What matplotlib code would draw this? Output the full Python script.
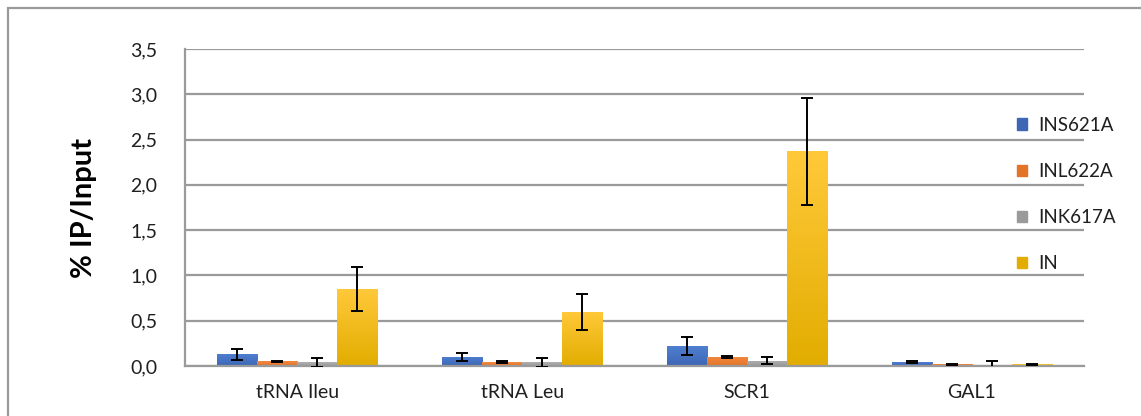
import numpy as np
import matplotlib
matplotlib.use('Agg')
import matplotlib.pyplot as plt
from matplotlib.patches import Rectangle
from matplotlib.colors import LinearSegmentedColormap

plt.rcParams['font.family'] = ['Lato', 'DejaVu Sans']

categories = ['tRNA Ileu', 'tRNA Leu', 'SCR1', 'GAL1']
series = ['INS621A', 'INL622A', 'INK617A', 'IN']
ins621a = [0.13, 0.10, 0.22, 0.04]
ins621a_err = [0.06, 0.045, 0.10, 0.01]
inl622a = [0.05, 0.04, 0.10, 0.02]
inl622a_err = [0.01, 0.01, 0.01, 0.005]
ink617a = [0.04, 0.04, 0.06, 0.01]
ink617a_err = [0.05, 0.05, 0.035, 0.05]
in_wt = [0.85, 0.60, 2.37, 0.02]
in_wt_err = [0.24, 0.20, 0.59, 0.005]

values = [ins621a, inl622a, ink617a, in_wt]
errors = [ins621a_err, inl622a_err, ink617a_err, in_wt_err]
# (top colour, bottom colour) for the soft gradient fill
colors = [('#4f7fd0', '#3d66b4'), ('#f28a40', '#e27328'),
          ('#b0b0b0', '#9a9a9a'), ('#ffc93a', '#e2ad00')]

fig = plt.figure(figsize=(11.41, 4.16), dpi=100)
ax = fig.add_axes([0.1621, 0.1202, 0.7880, 0.7620])

x = np.arange(len(categories))
w = 0.178

for i, (vals, errs, (c_top, c_bot)) in enumerate(zip(values, errors, colors)):
    pos = x + (i - 1.5) * w
    bars = ax.bar(pos, vals, w, color=c_bot, label=series[i], zorder=2)
    cmap = LinearSegmentedColormap.from_list('g', [c_bot, c_top])
    grad = np.linspace(0, 1, 256).reshape(-1, 1)
    for b in bars:
        bx, by = b.get_x(), b.get_y()
        bw, bh = b.get_width(), b.get_height()
        im = ax.imshow(grad, cmap=cmap, aspect='auto', origin='lower',
                       extent=[bx, bx + bw, by, by + bh], zorder=2.5)
        im.set_clip_path(b)
    ax.errorbar(pos, vals, yerr=errs, fmt='none', ecolor='black',
                elinewidth=1.4, capsize=4.5, capthick=1.4, zorder=4)

ax.set_aspect('auto')
ax.set_xlim(-0.5, len(categories) - 0.5)
ax.set_ylim(0, 3.5)

ticks = np.arange(0, 3.51, 0.5)
ax.set_yticks(ticks)
ax.set_yticklabels([f'{v:.1f}'.replace('.', ',') for v in ticks])
ax.set_xticks(x)
ax.set_xticklabels(categories)
ax.tick_params(axis='both', length=0, labelsize=14, colors='#1f1f1f')
ax.tick_params(axis='y', pad=20)
ax.tick_params(axis='x', pad=13)

ax.yaxis.grid(True, color='#9a9a9a', linewidth=1.6, zorder=0)
ax.set_axisbelow(True)
for s in ['top', 'right']:
    ax.spines[s].set_visible(False)
for s in ['left', 'bottom']:
    ax.spines[s].set_color('#9a9a9a')
    ax.spines[s].set_linewidth(1.6)

ax.set_ylabel('% IP/Input', fontsize=21, fontweight='bold', labelpad=24)

handles = [Rectangle((0, 0), 1, 1, color=c[1]) for c in colors]
ax.legend(handles, series, loc='upper left', bbox_to_anchor=(0.917, 0.81),
          frameon=False, fontsize=13.5, handlelength=0.55, handleheight=0.55,
          handletextpad=0.6, labelspacing=1.55, borderaxespad=0,
          labelcolor='#1f1f1f')

fig.patches.append(Rectangle((8 / 1141, -0.01), 1.02, 1 - 8 / 416 + 0.01,
                             transform=fig.transFigure, fill=False,
                             edgecolor='#9a9a9a', linewidth=1.6))

fig.savefig('out.png', dpi=100)
